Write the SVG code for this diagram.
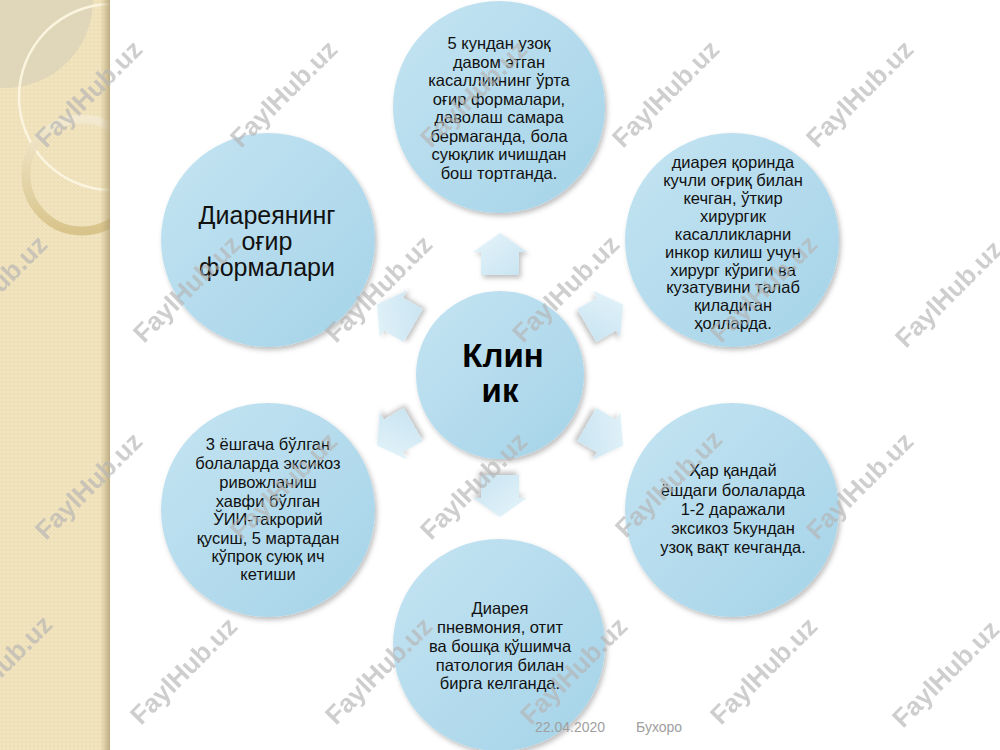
<svg xmlns="http://www.w3.org/2000/svg" width="1000" height="750" viewBox="0 0 1000 750">
  <defs>
    <linearGradient id="circ" x1="0" y1="0" x2="1" y2="1">
      <stop offset="0" stop-color="#c4e4f2"/>
      <stop offset="1" stop-color="#a5d3e8"/>
    </linearGradient>
    <linearGradient id="arr" x1="0" y1="0" x2="1" y2="1">
      <stop offset="0" stop-color="#e6f4fa"/>
      <stop offset="1" stop-color="#c7e4f1"/>
    </linearGradient>
    <linearGradient id="bandEdge" x1="0" y1="0" x2="1" y2="0">
      <stop offset="0" stop-color="#b8a67a" stop-opacity="0"/>
      <stop offset="1" stop-color="#a8956a" stop-opacity="0.7"/>
    </linearGradient>
    <linearGradient id="ring" x1="0" y1="0" x2="0" y2="1">
      <stop offset="0" stop-color="#f3ead2"/>
      <stop offset="1" stop-color="#d6c185"/>
    </linearGradient>
    <pattern id="dots" width="4" height="4" patternUnits="userSpaceOnUse">
      <rect width="4" height="4" fill="#f0e3bd"/>
      <circle cx="2" cy="2" r="0.8" fill="#e6d6a8"/>
    </pattern>
    <filter id="sh" x="-20%" y="-20%" width="140%" height="140%">
      <feDropShadow dx="2" dy="3" stdDeviation="2.5" flood-color="#000" flood-opacity="0.25"/>
    </filter>
    <path id="arrowShape" d="M0,-21 L27,-2 L19,-2 L19,21 L-19,21 L-19,-2 L-27,-2 Z"/>
    <clipPath id="bandClip"><rect x="0" y="0" width="110" height="750"/></clipPath>
  </defs>
  <style>
    .c { fill: url(#circ); filter: url(#sh); }
    .t { font-family: "Liberation Sans", Arial, sans-serif; font-size: 16.5px; fill: #111; text-anchor: middle; }
    .tl { font-family: "Liberation Sans", Arial, sans-serif; font-size: 25px; fill: #111; text-anchor: middle; }
    .tc { font-family: "Liberation Sans", Arial, sans-serif; font-size: 33px; font-weight: bold; fill: #000; text-anchor: middle; }
    .a { fill: url(#arr); filter: url(#sh); }
    .foot { font-family: "Liberation Sans", Arial, sans-serif; font-size: 14px; fill: #a0a0a0; }
    .wm { font-family: "Liberation Sans", Arial, sans-serif; font-size: 26px; font-weight: bold; fill: #b5b5b5; opacity: 0.65; text-anchor: middle; }
  </style>

  <rect width="1000" height="750" fill="#ffffff"/>

  <!-- left decorative band -->
  <g id="band">
    <rect x="0" y="0" width="110" height="750" fill="url(#dots)"/>
    <g clip-path="url(#bandClip)">
      <circle cx="5" cy="0" r="88" fill="#ddd3b8" opacity="0.85"/>
      <circle cx="112" cy="97" r="93" fill="none" stroke="#fbf4df" stroke-width="2.5"/>
      <circle cx="82" cy="175" r="56" fill="none" stroke="url(#ring)" stroke-width="9" opacity="0.9"/>
    </g>
    <rect x="100" y="0" width="10" height="750" fill="url(#bandEdge)"/>
  </g>

  <!-- connectors (block arrows) -->
  <g id="connectors">
    <use href="#arrowShape" class="a" transform="translate(500,254)"/>
    <use href="#arrowShape" class="a" transform="translate(605,315) rotate(60)"/>
    <use href="#arrowShape" class="a" transform="translate(605,435) rotate(120)"/>
    <use href="#arrowShape" class="a" transform="translate(500,496) rotate(180)"/>
    <use href="#arrowShape" class="a" transform="translate(395,435) rotate(240)"/>
    <use href="#arrowShape" class="a" transform="translate(395,315) rotate(300)"/>
  </g>

  <g id="node-center">
    <circle class="c" cx="500" cy="375" r="84"/>
    <text class="tc" x="503" y="367">Клин</text>
    <text class="tc" x="500" y="402">ик</text>
  </g>

  <g id="node-top">
    <circle class="c" cx="499" cy="107" r="106"/>
    <text class="t" x="499" y="49">5 кундан узоқ</text>
    <text class="t" x="499" y="67.5">давом этган</text>
    <text class="t" x="499" y="86">касалликнинг ўрта</text>
    <text class="t" x="499" y="104.5">оғир формалари,</text>
    <text class="t" x="499" y="123">даволаш самара</text>
    <text class="t" x="499" y="141.5">бермаганда, бола</text>
    <text class="t" x="499" y="160">суюқлик ичишдан</text>
    <text class="t" x="499" y="178.5">бош тортганда.</text>
  </g>

  <g id="node-top-right">
    <circle class="c" cx="732" cy="240" r="107"/>
    <text class="t" x="733" y="168">диарея қоринда</text>
    <text class="t" x="733" y="186">кучли оғриқ билан</text>
    <text class="t" x="733" y="204">кечган, ўткир</text>
    <text class="t" x="733" y="222">хирургик</text>
    <text class="t" x="733" y="239.5">касалликларни</text>
    <text class="t" x="733" y="257.5">инкор килиш учун</text>
    <text class="t" x="733" y="275.5">хирург кўриги ва</text>
    <text class="t" x="733" y="293">кузатувини талаб</text>
    <text class="t" x="733" y="311">қиладиган</text>
    <text class="t" x="733" y="328.5">ҳолларда.</text>
  </g>

  <g id="node-bottom-right">
    <circle class="c" cx="732" cy="510" r="107"/>
    <text class="t" x="733" y="476">Ҳар қандай</text>
    <text class="t" x="733" y="495.5">ёшдаги болаларда</text>
    <text class="t" x="733" y="515">1-2 даражали</text>
    <text class="t" x="733" y="534">эксикоз 5кундан</text>
    <text class="t" x="733" y="553">узоқ вақт кечганда.</text>
  </g>

  <g id="node-bottom">
    <circle class="c" cx="499" cy="645" r="106"/>
    <text class="t" x="500" y="614">Диарея</text>
    <text class="t" x="500" y="633">пневмония, отит</text>
    <text class="t" x="500" y="652">ва бошқа қўшимча</text>
    <text class="t" x="500" y="670.5">патология билан</text>
    <text class="t" x="500" y="689">бирга келганда.</text>
  </g>

  <g id="node-bottom-left">
    <circle class="c" cx="268" cy="510" r="107"/>
    <text class="t" x="268" y="450">3 ёшгача бўлган</text>
    <text class="t" x="268" y="469">болаларда эксикоз</text>
    <text class="t" x="268" y="488">ривожланиш</text>
    <text class="t" x="268" y="506.5">хавфи бўлган</text>
    <text class="t" x="268" y="525">ЎИИ-такрорий</text>
    <text class="t" x="268" y="543.5">қусиш, 5 мартадан</text>
    <text class="t" x="268" y="562">кўпроқ суюқ ич</text>
    <text class="t" x="268" y="580">кетиши</text>
  </g>

  <g id="node-top-left">
    <circle class="c" cx="268" cy="240" r="107"/>
    <text class="tl" x="267" y="224">Диареянинг</text>
    <text class="tl" x="267" y="250">оғир</text>
    <text class="tl" x="267" y="276">формалари</text>
  </g>

  <g id="footer">
    <text class="foot" x="535" y="732">22.04.2020</text>
    <text class="foot" x="636" y="732">Бухоро</text>
  </g>

  <g id="watermarks">
    <text class="wm" transform="translate(95,100) rotate(-45)">FaylHub.uz</text>
    <text class="wm" transform="translate(290,100) rotate(-45)">FaylHub.uz</text>
    <text class="wm" transform="translate(480,100) rotate(-45)">FaylHub.uz</text>
    <text class="wm" transform="translate(672,100) rotate(-45)">FaylHub.uz</text>
    <text class="wm" transform="translate(866,100) rotate(-45)">FaylHub.uz</text>
    <text class="wm" transform="translate(0,295) rotate(-45)">FaylHub.uz</text>
    <text class="wm" transform="translate(193,295) rotate(-45)">FaylHub.uz</text>
    <text class="wm" transform="translate(385,295) rotate(-45)">FaylHub.uz</text>
    <text class="wm" transform="translate(572,295) rotate(-45)">FaylHub.uz</text>
    <text class="wm" transform="translate(770,295) rotate(-45)">FaylHub.uz</text>
    <text class="wm" transform="translate(955,300) rotate(-45)">FaylHub.uz</text>
    <text class="wm" transform="translate(95,492) rotate(-45)">FaylHub.uz</text>
    <text class="wm" transform="translate(290,492) rotate(-45)">FaylHub.uz</text>
    <text class="wm" transform="translate(480,492) rotate(-45)">FaylHub.uz</text>
    <text class="wm" transform="translate(675,490) rotate(-45)">FaylHub.uz</text>
    <text class="wm" transform="translate(866,492) rotate(-45)">FaylHub.uz</text>
    <text class="wm" transform="translate(5,675) rotate(-45)">FaylHub.uz</text>
    <text class="wm" transform="translate(190,677) rotate(-45)">FaylHub.uz</text>
    <text class="wm" transform="translate(385,677) rotate(-45)">FaylHub.uz</text>
    <text class="wm" transform="translate(580,677) rotate(-45)">FaylHub.uz</text>
    <text class="wm" transform="translate(770,677) rotate(-45)">FaylHub.uz</text>
    <text class="wm" transform="translate(952,680) rotate(-45)">FaylHub.uz</text>
  </g>
</svg>
